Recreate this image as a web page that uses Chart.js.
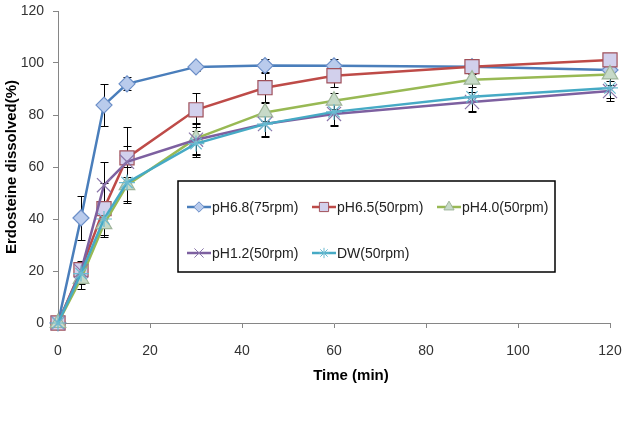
<!DOCTYPE html>
<html>
<head>
<meta charset="utf-8">
<script src="https://cdn.jsdelivr.net/npm/chart.js@4/dist/chart.umd.min.js"></script>
<style>
  html, body { margin: 0; padding: 0; background: #fff; }
</style>
</head>
<body>
<canvas id="myChart" width="622" height="432"></canvas>
<script>
const times = [0, 5, 10, 15, 30, 45, 60, 90, 120];
const seriesNames = ["pH6.8(75rpm)", "pH6.5(50rpm)", "pH4.0(50rpm)", "pH1.2(50rpm)", "DW(50rpm)"];

const ph68 = [0, 40.4, 83.8, 92, 98.5, 99, 98.9, 98.6, 97.3];
const ph65 = [0, 20.5, 44, 63.5, 82, 90.5, 95.1, 98.6, 101.2];
const ph40 = [0, 17, 38, 53, 71, 81, 85.5, 93.6, 95.6];
const ph12 = [0, 20, 53, 62, 70.5, 76.5, 80.4, 85, 89.2];
const dw = [0, 19, 40, 54, 69, 76.5, 81.2, 87, 90.4];

const ph68Err = [0, 8.5, 8, 2.5, 1.5, 2.5, 2.5, 1.5, 1.5];
const ph65Err = [0, 3.5, 10, 12, 6.5, 5.5, 4.5, 3, 2.5];
const ph40Err = [0, 4, 5, 7, 6, 3.5, 3, 3, 4];
const ph12Err = [0, 3, 9, 6, 6, 4.5, 4.5, 4, 4];
const dwErr = [0, 4, 6, 7, 5, 5, 5, 5.5, 4];

const yTicks = [0, 20, 40, 60, 80, 100, 120];
const xTicks = [0, 20, 40, 60, 80, 100, 120];
const xTitle = "Time (min)";

Chart.defaults.font.family = "'Liberation Sans', Arial, sans-serif";

const styles = [
    { line: "#4a7ebb", fill: "#b9cbec", edge: "#6c8fc8", point: "rectRot", radius: 8 },
    { line: "#be4b48", fill: "#d2d0ec", edge: "#a0505a", point: "rect", radius: 10 },
    { line: "#98b954", fill: "#c7dac8", edge: "#9fb59a", point: "triangle", radius: 9 },
    { line: "#7d60a0", fill: "#b9a9cf", edge: "#8a76aa", point: "crossRot", radius: 10 },
    { line: "#46aac5", fill: "#9fd6e4", edge: "#6bbad0", point: "star", radius: 8 },
];

const values = [ph68, ph65, ph40, ph12, dw];
const errs = [ph68Err, ph65Err, ph40Err, ph12Err, dwErr];

// error bars, drawn under the markers
const errorBars = {
    id: "errorBars",
    beforeDatasetsDraw(chart) {
        const { ctx, scales: { x, y } } = chart;
        ctx.save();
        ctx.strokeStyle = "#000";
        ctx.lineWidth = 1;
        chart.data.datasets.forEach((ds) => {
            ds.errors.forEach((e, i) => {
                if (!e) return;
                const px = Math.round(x.getPixelForValue(times[i])) + 0.5;
                const top = Math.round(y.getPixelForValue(ds.data[i].y + e)) + 0.5;
                const bot = Math.round(y.getPixelForValue(ds.data[i].y - e)) + 0.5;
                ctx.beginPath();
                ctx.moveTo(px, top);
                ctx.lineTo(px, bot);
                ctx.moveTo(px - 4, top);
                ctx.lineTo(px + 4, top);
                ctx.moveTo(px - 4, bot);
                ctx.lineTo(px + 4, bot);
                ctx.stroke();
            });
        });
        ctx.restore();
    },
};

// legend box inside the plot area, plus the x title (sits a bit right of centre)
const boxLegend = {
    id: "boxLegend",
    afterDraw(chart) {
        const { ctx, chartArea: a } = chart;
        const bx = a.left + 120, by = a.top + 170, bw = 377, bh = 91;
        ctx.save();
        ctx.fillStyle = "#fff";
        ctx.fillRect(bx, by, bw, bh);
        ctx.strokeStyle = "#000";
        ctx.lineWidth = 1.5;
        ctx.strokeRect(bx, by, bw, bh);

        const cols = [9, 134, 259];
        const rows = [26, 72];
        ctx.font = "14px 'Liberation Sans', Arial, sans-serif";
        ctx.textBaseline = "middle";
        chart.data.datasets.forEach((ds, i) => {
            const lx = bx + cols[i % 3];
            const ly = by + rows[Math.floor(i / 3)];
            ctx.strokeStyle = ds.borderColor;
            ctx.lineWidth = 2.5;
            ctx.beginPath();
            ctx.moveTo(lx, ly);
            ctx.lineTo(lx + 24, ly);
            ctx.stroke();
            ctx.fillStyle = ds.pointBackgroundColor;
            ctx.strokeStyle = ds.pointBorderColor;
            ctx.lineWidth = 1;
            Chart.helpers.drawPoint(ctx, {
                pointStyle: ds.pointStyle,
                radius: ds.pointRadius * 0.65,
                rotation: 0,
                borderWidth: 1,
            }, lx + 12, ly);
            ctx.fillStyle = "#222";
            ctx.fillText(ds.label, lx + 25, ly + 1);
        });

        ctx.fillStyle = "#000";
        ctx.font = "bold 15px 'Liberation Sans', Arial, sans-serif";
        ctx.textAlign = "center";
        ctx.fillText(xTitle, (a.left + a.right) / 2 + 17, a.bottom + 53);
        ctx.restore();
    },
};

const myChart = document.getElementById("myChart");

new Chart(myChart, {
    type: "line",
    data: {
        datasets: values.map((vals, i) => ({
            label: seriesNames[i],
            data: vals.map((v, j) => ({ x: times[j], y: v })),
            errors: errs[i],
            borderColor: styles[i].line,
            borderWidth: 2.5,
            pointStyle: styles[i].point,
            pointRadius: styles[i].radius,
            pointBackgroundColor: styles[i].fill,
            pointBorderColor: styles[i].edge,
            pointBorderWidth: 1.2,
            tension: 0,
            clip: false,
            order: 5 - i,
        })),
    },
    options: {
        responsive: false,
        animation: false,
        devicePixelRatio: 1,
        layout: {
            autoPadding: false,
            padding: { top: 11, right: 12, bottom: 44, left: 0 },
        },
        scales: {
            x: {
                type: "linear",
                min: 0,
                max: 120,
                afterFit: (scale) => {
                    scale.height = 65;
                    scale.paddingLeft = 0;
                    scale.paddingRight = 0;
                },
                afterBuildTicks: (scale) => { scale.ticks = xTicks.map((v) => ({ value: v })); },
                grid: { drawOnChartArea: false, drawTicks: true, tickLength: 5, color: "#868686" },
                border: { color: "#868686", width: 1 },
                ticks: { padding: 15, color: "#333", font: { size: 14 } },
                title: { display: false },
            },
            y: {
                min: 0,
                max: 120,
                afterFit: (scale) => {
                    scale.width = 58;
                    scale.paddingTop = 0;
                    scale.paddingBottom = 0;
                },
                afterBuildTicks: (scale) => { scale.ticks = yTicks.map((v) => ({ value: v })); },
                grid: { drawOnChartArea: false, drawTicks: true, tickLength: 5, color: "#868686" },
                border: { color: "#868686", width: 1 },
                ticks: { padding: 9, color: "#333", font: { size: 14 } },
                title: {
                    display: true,
                    text: "Erdosteine dissolved(%)",
                    color: "#000",
                    font: { size: 15, weight: "bold" },
                    padding: { top: 3, bottom: 0 },
                },
            },
        },
        plugins: {
            legend: { display: false },
            tooltip: { enabled: false },
        },
    },
    plugins: [errorBars, boxLegend],
});
</script>
</body>
</html>
